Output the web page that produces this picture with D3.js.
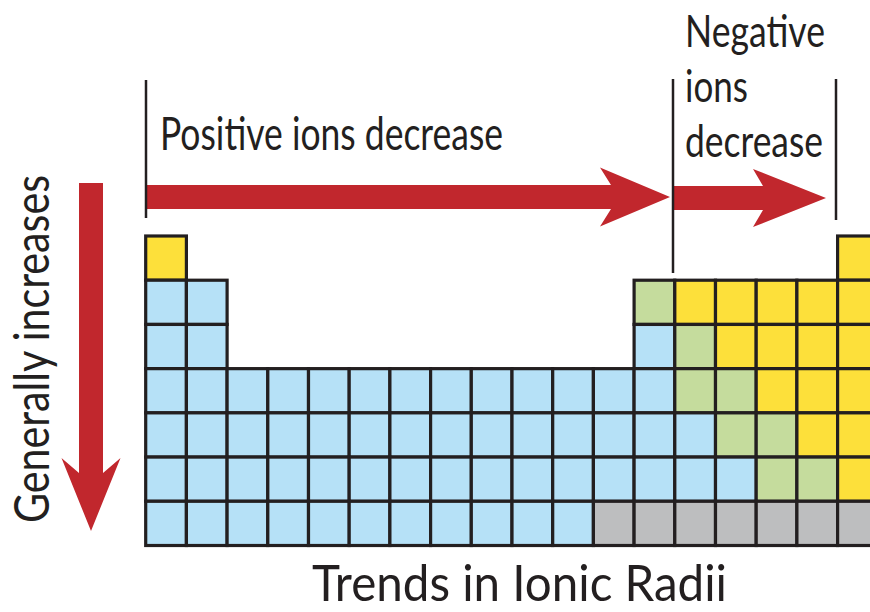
<!DOCTYPE html>
<html>
<head>
<meta charset="utf-8">
<script src="https://cdn.jsdelivr.net/npm/d3@7/dist/d3.min.js"></script>
<style>
  html, body { margin: 0; padding: 0; background: #fff; }
  svg { display: block; }
  text { font-family: Lato, "Noto Sans", sans-serif; fill: #231f20; }
</style>
</head>
<body>
<svg id="chart" width="870" height="612"></svg>
<script>
// ---- data ----
const groups = d3.range(1, 19);              // 18 columns
const periods = d3.range(1, 8);              // 7 rows
// cell category per period, one char per group: Y=negative ion (yellow), B=positive ion (blue),
// G=metalloid (green), X=unknown (gray), .=empty
const rowPatterns = [
  "Y................Y",
  "BB..........GYYYYY",
  "BB..........BGYYYY",
  "BBBBBBBBBBBBBGGYYY",
  "BBBBBBBBBBBBBBGGYY",
  "BBBBBBBBBBBBBBBGGY",
  "BBBBBBBBBBBXXXXXXX"
];
const categories = ["Y", "B", "G", "X"];
const categoryColors = ["#fde03a", "#b6e1f7", "#c5dc9d", "#bdbebf"];
const title = "Trends in Ionic Radii";
const leftLabel = "Generally increases";
const topLabel = "Positive ions decrease";
const rightLabelLines = ["Negative", "ions", "decrease"];

// ---- build cells ----
const cells = [];
periods.forEach((p, i) => {
  groups.forEach((g, j) => {
    const c = rowPatterns[i][j];
    if (c !== ".") cells.push({ period: p, group: g, cat: c });
  });
});

const svg = d3.select("#chart");
const x = d3.scaleBand().domain(groups).range([145.7, 145.7 + 18 * 40.7]).padding(0);
const y = d3.scaleBand().domain(periods).range([236, 545.5]).padding(0);
const color = d3.scaleOrdinal().domain(categories).range(categoryColors);

svg.append("g").selectAll("rect").data(cells).join("rect")
  .attr("x", d => x(d.group))
  .attr("y", d => y(d.period))
  .attr("width", x.bandwidth())
  .attr("height", y.bandwidth())
  .attr("fill", d => color(d.cat))
  .attr("stroke", "#231f20")
  .attr("stroke-width", 3.2);

// ---- arrows ----
const red = "#c1272d";
function hArrow(x0, xJoin, xBack, xTip, cy, halfShaft, halfHead) {
  return `M${x0},${cy - halfShaft} L${xJoin},${cy - halfShaft} L${xBack},${cy - halfHead} L${xTip},${cy} L${xBack},${cy + halfHead} L${xJoin},${cy + halfShaft} L${x0},${cy + halfShaft} Z`;
}
function vArrow(y0, yJoin, yBack, yTip, cx, halfShaft, halfHead) {
  return `M${cx - halfShaft},${y0} L${cx - halfShaft},${yJoin} L${cx - halfHead},${yBack} L${cx},${yTip} L${cx + halfHead},${yBack} L${cx + halfShaft},${yJoin} L${cx + halfShaft},${y0} Z`;
}
svg.append("path").attr("d", hArrow(147, 611, 600, 670, 197, 12, 29.5)).attr("fill", red);
svg.append("path").attr("d", hArrow(674, 763, 753, 826, 198, 12, 29)).attr("fill", red);
svg.append("path").attr("d", vArrow(183, 473, 458, 531, 91, 12, 29.5)).attr("fill", red);

// ---- bracket lines ----
const lines = [[146, 80, 218], [673, 79, 273], [836, 79, 220]];
svg.append("g").selectAll("line").data(lines).join("line")
  .attr("x1", d => d[0]).attr("x2", d => d[0])
  .attr("y1", d => d[1]).attr("y2", d => d[2])
  .attr("stroke", "#231f20").attr("stroke-width", 2.5);

// ---- text ----
svg.append("text").attr("x", 160).attr("y", 150)
  .attr("font-size", 46).attr("textLength", 343).attr("lengthAdjust", "spacingAndGlyphs")
  .text(topLabel);

const rightWidths = [140, 63, 138];
rightLabelLines.forEach((t, i) => {
  svg.append("text").attr("x", 685).attr("y", 47 + i * 55)
    .attr("font-size", 45).attr("textLength", rightWidths[i]).attr("lengthAdjust", "spacingAndGlyphs")
    .text(t);
});

svg.append("text").attr("transform", "translate(49,523) rotate(-90)")
  .attr("font-size", 48).attr("textLength", 348).attr("lengthAdjust", "spacingAndGlyphs")
  .text(leftLabel);

svg.append("text").attr("x", 312).attr("y", 601)
  .attr("font-size", 50).attr("textLength", 415).attr("lengthAdjust", "spacingAndGlyphs")
  .text(title);
</script>
</body>
</html>
